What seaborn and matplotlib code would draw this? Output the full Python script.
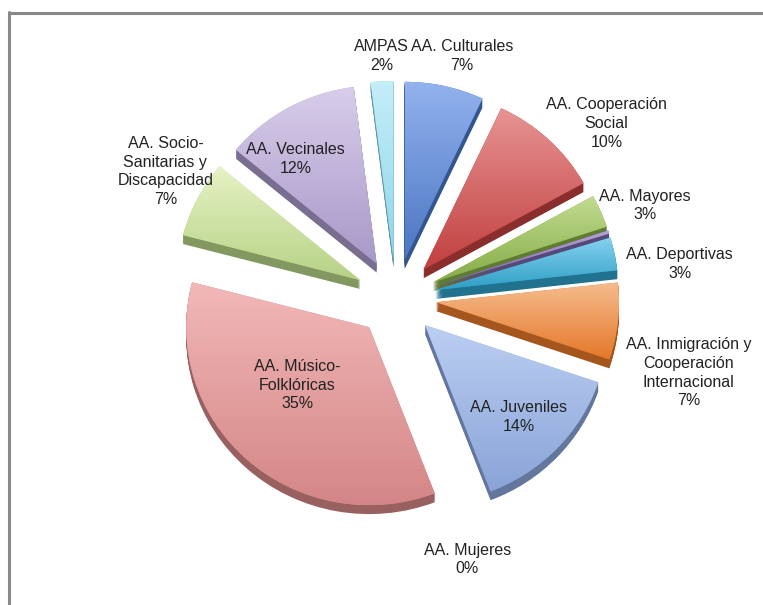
import numpy as np
import seaborn as sns
import matplotlib.pyplot as plt
from matplotlib.colors import to_rgb, LinearSegmentedColormap
from matplotlib.lines import Line2D

# Datos (porcentaje de asociaciones por tipo)
categorias = ["AA. Culturales", "AA. Cooperación\nSocial", "AA. Mayores", "AA. Mujeres",
              "AA. Deportivas", "AA. Inmigración y\nCooperación\nInternacional",
              "AA. Juveniles", "AA. Músico-\nFolklóricas", "AA. Socio-\nSanitarias y\nDiscapacidad",
              "AA. Vecinales", "AMPAS"]
valores = [7, 10, 3, 0.3, 3, 7, 14, 35, 7, 12, 2]
etiquetas_pct = ["7%", "10%", "3%", "0%", "3%", "7%", "14%", "35%", "7%", "12%", "2%"]

# degradado de cada porción (claro arriba, oscuro abajo)
claros = ["#93b2ee", "#e89494", "#c2dc92", "#b4a4d8", "#86d2ee", "#f6bc8c",
          "#bccff2", "#f2b8b8", "#e6f2c4", "#d8cdea", "#c4eef8"]
oscuros = ["#4a76c2", "#c0403f", "#86ac46", "#7a64a8", "#2e9ec6", "#e4782a",
           "#8aa4d8", "#d48686", "#b6d286", "#a898c8", "#8ed6ea"]

# posiciones de las etiquetas (centro del pastel = 0,0)
pos_etiquetas = [(0.36, 1.36), (1.15, 0.98), (1.36, 0.52), (0.39, -1.47), (1.55, 0.19),
                 (1.60, -0.42), (0.67, -0.67), (-0.54, -0.49), (-1.26, 0.71),
                 (-0.55, 0.78), (-0.08, 1.36)]

sns.set_theme(style="white")
plt.rcParams['font.family'] = ['Liberation Sans Narrow', 'Liberation Sans', 'DejaVu Sans']

fig = plt.figure(figsize=(7.63, 6.05), dpi=100)
ax = fig.add_axes([0, 0, 1, 1])

explode = [0.22] * len(valores)
profundidad = 0.05
capas = 10

# laterales (efecto 3D)
laterales = [tuple(c * 0.72 for c in to_rgb(col)) for col in oscuros]
for k in range(capas, 0, -1):
    ax.pie(valores, colors=laterales, startangle=90, counterclock=False, explode=explode,
           center=(0, -profundidad * k / capas), radius=1,
           wedgeprops=dict(linewidth=0))

# cara superior
wedges, _ = ax.pie(valores, colors=oscuros, startangle=90, counterclock=False,
                   explode=explode, center=(0, 0), radius=1,
                   wedgeprops=dict(linewidth=0))

grad = np.linspace(0, 1, 256).reshape(-1, 1)
for w, c1, c2 in zip(wedges, claros, oscuros):
    ext = w.get_path().get_extents()
    cmap = LinearSegmentedColormap.from_list("g", [c1, c2])
    ax.imshow(grad, cmap=cmap, extent=[ext.x0, ext.x1, ext.y0, ext.y1],
              origin="upper", aspect="auto", clip_path=w, zorder=w.get_zorder() + 0.1,
              interpolation="bilinear")

for cat, pct, (x, y) in zip(categorias, etiquetas_pct, pos_etiquetas):
    ax.text(x, y, f"{cat}\n{pct}", ha="center", va="center", fontsize=11.5,
            color="#222222", linespacing=1.3, zorder=5)

ax.set_aspect("auto")
ax.set_xlim(-396 / 183, (763 - 396) / 183)
ax.set_ylim((298 - 605) / 178, 298 / 178)
ax.axis("off")

# borde del área del gráfico
fig.add_artist(Line2D([9 / 763, 9 / 763], [0, 1 - 12 / 605], color="#888888", lw=2.2))
fig.add_artist(Line2D([9 / 763, 1], [1 - 13 / 605, 1 - 13 / 605], color="#888888", lw=2.2))

plt.savefig("out.png", dpi=100)
